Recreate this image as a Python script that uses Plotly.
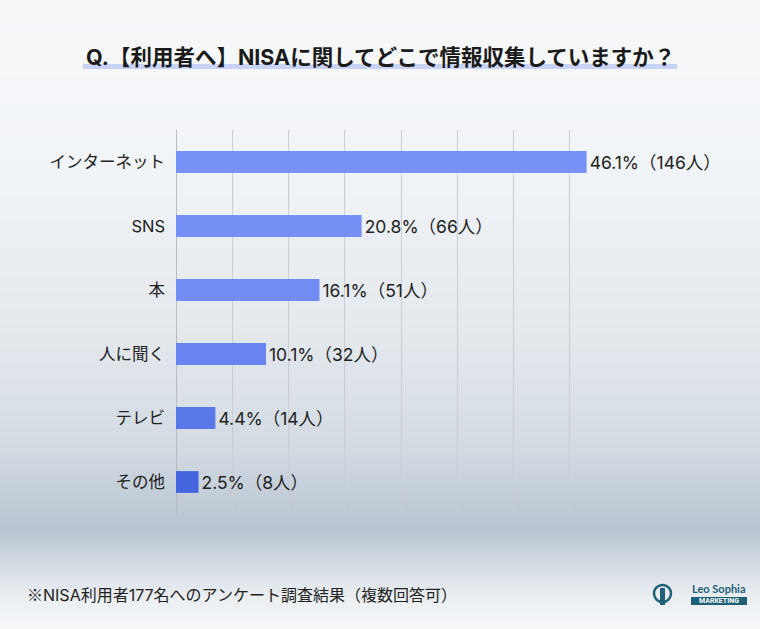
import plotly.graph_objects as go

categories = ["インターネット", "SNS", "本", "人に聞く", "テレビ", "その他"]
counts = [146, 66, 51, 32, 14, 8]
percents = [46.1, 20.8, 16.1, 10.1, 4.4, 2.5]
bar_colors = ["#7893F7", "#7691F6", "#718CF3", "#6885EF", "#5A79E8", "#4465DE"]
x_ticks = [0, 20, 40, 60, 80, 100, 120, 140, 160]

W, H = 760, 629
L, R, T, B = 176, 626, 130, 514
FONT = "Inter, Noto Sans CJK JP, sans-serif"

def px(x):
    return (x - L) / (R - L)

def py(y):
    return (B - y) / (B - T)

labels = [f"{p}%（{n}人）" for p, n in zip(percents, counts)]

fig = go.Figure(go.Bar(
    y=categories, x=counts, orientation="h",
    marker=dict(color=bar_colors, line=dict(width=0)),
    text=labels, textposition="outside", cliponaxis=False,
    textfont=dict(size=17.5, color="#222222"),
    width=0.34, hoverinfo="skip",
))

# background vertical gradient via stripes
stops = [(0, (247, 248, 250)), (150, (242, 245, 248)), (330, (228, 233, 238)),
         (450, (210, 218, 226)), (530, (184, 196, 208)), (565, (212, 219, 227)),
         (600, (236, 240, 243)), (629, (245, 247, 249))]

def col_at(y):
    for (y0, c0), (y1, c1) in zip(stops[:-1], stops[1:]):
        if y0 <= y <= y1:
            t = (y - y0) / (y1 - y0)
            return "rgb(%d,%d,%d)" % tuple(round(a + (b - a) * t) for a, b in zip(c0, c1))
    return "rgb(245,247,249)"

shapes = []
step = 4
for y in range(0, H, step):
    shapes.append(dict(type="rect", xref="paper", yref="paper", layer="below",
                       x0=px(-5), x1=px(W + 5), y0=py(y), y1=py(y + step + 1),
                       fillcolor=col_at(y + step / 2), line=dict(width=0)))

# title underline highlight
shapes.append(dict(type="rect", xref="paper", yref="paper", layer="below",
                   x0=px(83), x1=px(677), y0=py(69), y1=py(64),
                   fillcolor="#C9D3F7", line=dict(width=0)))

# logo
shapes.append(dict(type="circle", xref="paper", yref="paper",
                   x0=px(654), x1=px(671), y0=py(602), y1=py(585),
                   line=dict(color="#1E6076", width=2.5), fillcolor="rgba(0,0,0,0)"))
shapes.append(dict(type="rect", xref="paper", yref="paper",
                   x0=px(660), x1=px(665), y0=py(605), y1=py(588),
                   line=dict(width=0), fillcolor="#1E6076"))
shapes.append(dict(type="rect", xref="paper", yref="paper",
                   x0=px(691), x1=px(747), y0=py(605), y1=py(597),
                   line=dict(width=0), fillcolor="#1E6076"))

annotations = [
    dict(text="<b>Q.【利用者へ】NISAに関してどこで情報収集していますか？</b>",
         xref="paper", yref="paper", x=px(380), y=py(57), showarrow=False,
         xanchor="center", yanchor="middle",
         font=dict(size=21.5, color="#1a1a1a", family=FONT)),
    dict(text="<span style='font-family:Noto Sans CJK JP'>※</span>NISA利用者177名へのアンケート調査結果（複数回答可）",
         xref="paper", yref="paper", x=px(25), y=py(594), showarrow=False,
         xanchor="left", yanchor="middle", font=dict(size=16, color="#222222", family=FONT)),
    dict(text="<b>Leo Sophia</b>", xref="paper", yref="paper", x=px(690), y=py(588),
         showarrow=False, xanchor="left", yanchor="middle",
         font=dict(size=11, color="#1E6076", family="Lato, sans-serif")),
    dict(text="<b>MARKETING</b>", xref="paper", yref="paper", x=px(719), y=py(601),
         showarrow=False, xanchor="center", yanchor="middle",
         font=dict(size=7, color="white", family="Roboto, sans-serif")),
]

fig.update_layout(
    width=W, height=H,
    margin=dict(l=L, r=W - R, t=T, b=H - B, pad=0),
    paper_bgcolor="#F3F5F8", plot_bgcolor="rgba(0,0,0,0)",
    font=dict(family=FONT, size=16, color="#222222"),
    showlegend=False, hovermode=False,
    shapes=shapes, annotations=annotations,
    xaxis=dict(range=[0, 160], tickvals=x_ticks, showticklabels=False,
               showgrid=True, gridcolor="#C9CCD0", gridwidth=1,
               zeroline=True, zerolinecolor="#B8BCC2", zerolinewidth=1,
               fixedrange=True),
    yaxis=dict(categoryorder="array", categoryarray=categories[::-1],
               autorange=False, range=[-0.5, 5.5], showgrid=False,
               ticks="", ticklabelstandoff=10, fixedrange=True,
               tickfont=dict(size=16.5, color="#222222")),
    bargap=0.66,
)

fig.write_html("out.html", config={"displayModeBar": False, "staticPlot": True},
               post_script="document.body.style.margin='0';document.body.style.overflow='hidden';")
